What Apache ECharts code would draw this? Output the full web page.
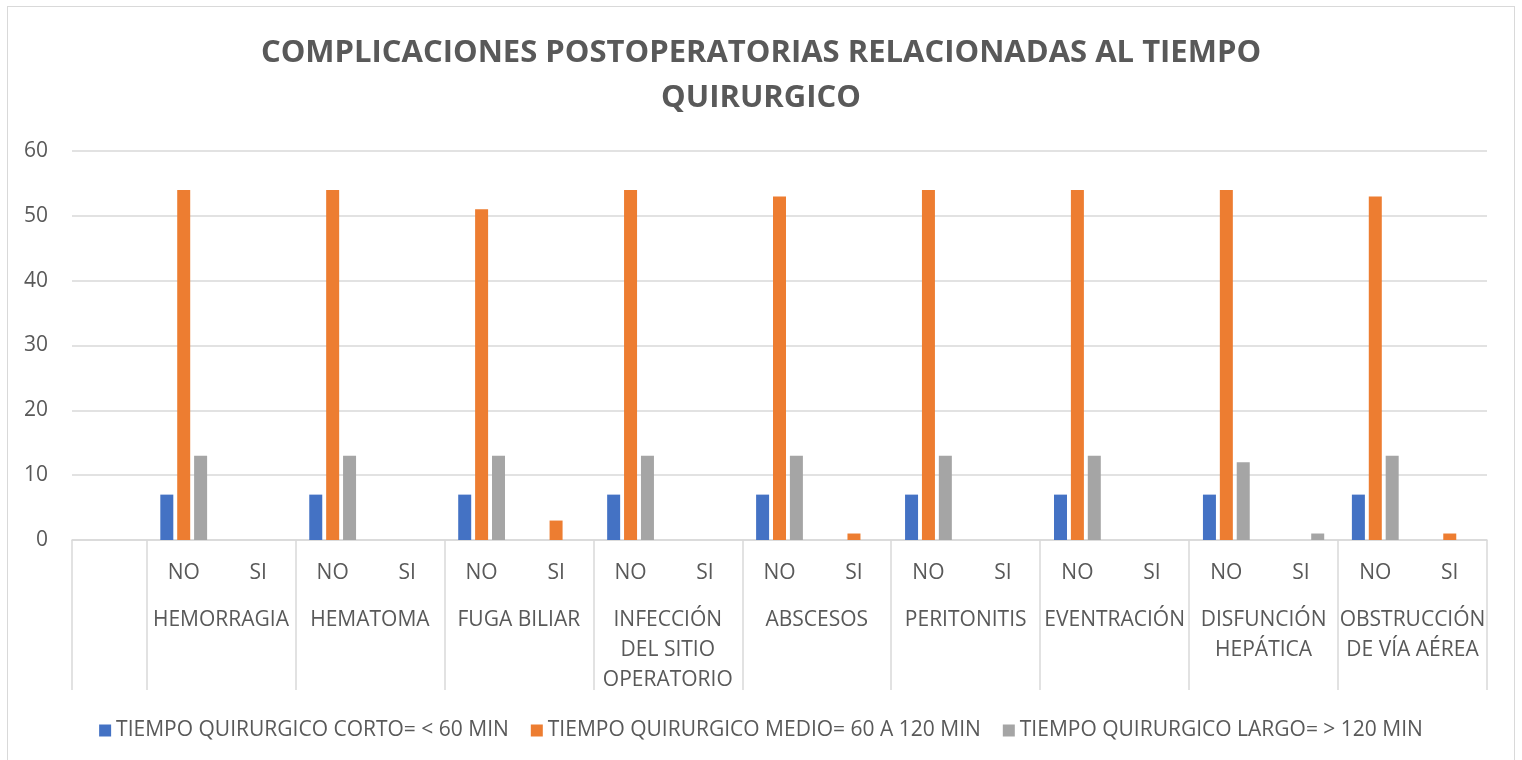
<!DOCTYPE html>
<html>
<head>
<meta charset="utf-8">
<script src="https://cdn.jsdelivr.net/npm/echarts@6/dist/echarts.min.js"></script>
<style>
  html, body { margin: 0; padding: 0; background: #fff; }
  #frame { position: absolute; left: 7px; top: 6px; width: 1506px; height: 770px; border: 1px solid #d9d9d9; }
  #chart { position: absolute; left: 0; top: 0; width: 1522px; height: 760px; }
</style>
</head>
<body>
<div id="frame"></div>
<div id="chart"></div>
<script>
var chart = echarts.init(document.getElementById('chart'));

// categorias: una vacia al inicio y luego NO / SI por complicacion
var subCats = ['', 'NO', 'SI', 'NO', 'SI', 'NO', 'SI', 'NO', 'SI', 'NO', 'SI',
               'NO', 'SI', 'NO', 'SI', 'NO', 'SI', 'NO', 'SI'];
var groups = ['HEMORRAGIA', 'HEMATOMA', 'FUGA BILIAR', 'INFECCIÓN\nDEL SITIO\nOPERATORIO',
              'ABSCESOS', 'PERITONITIS', 'EVENTRACIÓN', 'DISFUNCIÓN\nHEPÁTICA',
              'OBSTRUCCIÓN\nDE VÍA AÉREA'];
var seriesNames = ['TIEMPO QUIRURGICO CORTO= < 60 MIN',
                   'TIEMPO QUIRURGICO MEDIO= 60 A 120 MIN',
                   'TIEMPO QUIRURGICO LARGO= > 120 MIN'];
var corto = [null, 7, 0, 7, 0, 7, 0, 7, 0, 7, 0, 7, 0, 7, 0, 7, 0, 7, 0];
var medio = [null, 54, 0, 54, 0, 51, 3, 54, 0, 53, 1, 54, 0, 54, 0, 54, 0, 53, 1];
var largo = [null, 13, 0, 13, 0, 13, 0, 13, 0, 13, 0, 13, 0, 13, 0, 12, 1, 13, 0];
var colors = ['#4472C4', '#ED7D31', '#A5A5A5'];
var yTicks = [0, 10, 20, 30, 40, 50, 60];

var font = 'Open Sans';
var textColor = '#595959';

// posiciones de los separadores y centros de grupo en el eje secundario
var dividers = [0];
var centers = [];
for (var i = 0; i < groups.length; i++) {
    dividers.push(2 * i + 1);
    centers.push(2 * i + 2);
}
dividers.push(subCats.length);

var seriesData = [corto, medio, largo];
var series = seriesData.map(function (d, i) {
    return {
        name: seriesNames[i],
        type: 'bar',
        data: d,
        barWidth: 13,
        barGap: '30%',
        itemStyle: { color: colors[i] },
        animation: false
    };
});

var option = {
    textStyle: { fontFamily: font },
    color: colors,
    title: {
        text: 'COMPLICACIONES POSTOPERATORIAS RELACIONADAS AL TIEMPO\nQUIRURGICO',
        left: 'center',
        top: 26,
        textStyle: {
            fontFamily: font,
            fontSize: 31,
            fontWeight: 'bold',
            color: textColor,
            lineHeight: 45
        }
    },
    legend: {
        bottom: 14,
        left: 'center',
        itemWidth: 12,
        itemHeight: 12,
        itemGap: 22,
        icon: 'rect',
        textStyle: { fontFamily: font, fontSize: 21, color: textColor },
        data: seriesNames
    },
    grid: { left: 72, right: 35, top: 151, bottom: 220, containLabel: false },
    xAxis: [{
        type: 'category',
        data: subCats,
        axisLine: { lineStyle: { color: '#d9d9d9', width: 1.5 } },
        axisTick: { show: false },
        axisLabel: { interval: 0, margin: 23, fontSize: 21, color: textColor, fontFamily: font }
    }, {
        type: 'value',
        position: 'bottom',
        min: 0,
        max: subCats.length,
        axisLine: { show: false },
        splitLine: { show: false },
        axisTick: {
            show: true,
            length: 150,
            customValues: dividers,
            lineStyle: { color: '#d9d9d9', width: 1.5 }
        },
        axisLabel: {
            customValues: centers,
            margin: 65,
            fontSize: 21,
            lineHeight: 30,
            color: textColor,
            fontFamily: font,
            verticalAlign: 'top',
            formatter: function (v) { return groups[(v - 2) / 2]; }
        }
    }],
    yAxis: {
        type: 'value',
        min: 0,
        max: 60,
        interval: 10,
        axisLine: { show: false },
        axisTick: { show: false },
        splitLine: { lineStyle: { color: '#d9d9d9', width: 1.5 } },
        axisLabel: {
            margin: 24,
            fontSize: 21,
            color: textColor,
            fontFamily: font,
            customValues: yTicks
        }
    },
    series: series
};

chart.setOption(option);
</script>
</body>
</html>
